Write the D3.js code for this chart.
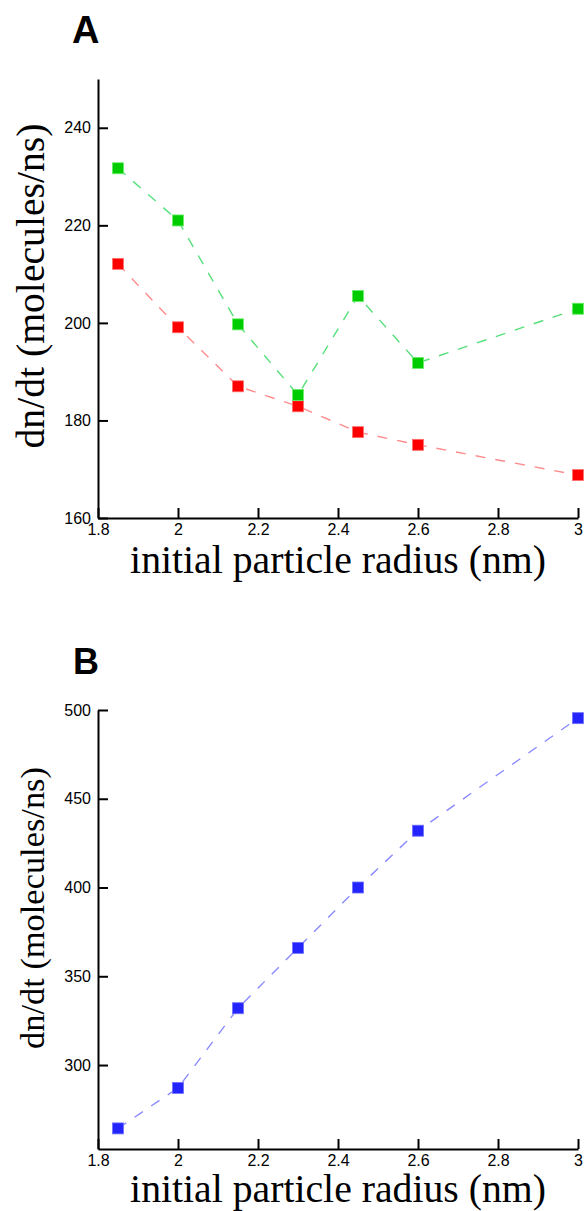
<!DOCTYPE html>
<html>
<head>
<meta charset="utf-8">
<script src="https://cdn.jsdelivr.net/npm/d3@7"></script>
<style>
  html, body { margin: 0; padding: 0; background: #fff; }
  svg { display: block; }
</style>
</head>
<body>
<svg id="chart" width="585" height="1211"></svg>
<script>
// ---- data ----
const radius = [1.85, 2.0, 2.15, 2.3, 2.45, 2.6, 3.0];
const greenSeries = [231.7, 221.0, 199.7, 185.2, 205.5, 191.8, 202.9];
const redSeries = [212.1, 199.1, 187.0, 182.9, 177.6, 175.0, 168.8];
const blueSeries = [264.3, 287.1, 332, 366, 400, 432, 495.4];
const xTicks = [1.8, 2, 2.2, 2.4, 2.6, 2.8, 3];
const yTicksA = [160, 180, 200, 220, 240];
const yTicksB = [300, 350, 400, 450, 500];
const xLabel = "initial particle radius (nm)";
const yLabel = "dn/dt (molecules/ns)";

const svg = d3.select("#chart");
const serif = "'Liberation Serif', 'DejaVu Serif', serif";
const sans = "'Liberation Sans', Arial, sans-serif";

function fitText(sel, target) {
  const node = sel.node();
  const len = node.getComputedTextLength();
  const fs = parseFloat(sel.attr("font-size"));
  sel.attr("font-size", fs * target / len);
}

function panel(opts) {
  const x = d3.scaleLinear().domain([1.8, 3]).range([98, 578]);
  const y = d3.scaleLinear().domain(opts.yDomain).range(opts.yRange);
  const g = svg.append("g");

  // panel letter
  g.append("text").attr("x", opts.letterX).attr("y", opts.letterY)
    .attr("font-family", sans).attr("font-weight", "bold")
    .attr("font-size", opts.letterSize).attr("fill", "#000").text(opts.letter);

  // axes
  const yAxis = d3.axisLeft(y).tickValues(opts.yTicks).tickSizeInner(-10)
    .tickSizeOuter(0).tickPadding(7).tickFormat(d => String(d));
  const xAxis = d3.axisBottom(x).tickValues(xTicks).tickSizeInner(-10)
    .tickSizeOuter(0).tickPadding(6).tickFormat(d => String(d));

  const ya = g.append("g").attr("transform", "translate(98,0)").call(yAxis);
  const xa = g.append("g").attr("transform", `translate(0,${opts.yRange[0]})`).call(xAxis);
  [ya, xa].forEach(a => {
    a.select(".domain").attr("stroke", "#000").attr("stroke-width", 2);
    a.selectAll(".tick line").attr("stroke", "#000").attr("stroke-width", 2);
    a.selectAll(".tick text").attr("font-family", sans).attr("font-size", 16).attr("fill", "#000");
  });

  // series
  opts.series.forEach(s => {
    const pts = radius.map((r, i) => [r, s.values[i]]);
    const line = d3.line().x(d => x(d[0])).y(d => y(d[1]));
    g.append("path").datum(pts).attr("d", line).attr("fill", "none")
      .attr("stroke", s.lineColor).attr("stroke-width", 1.4)
      .attr("stroke-dasharray", "10,10");
    g.selectAll(null).data(pts).enter().append("rect")
      .attr("x", d => x(d[0]) - 5.5).attr("y", d => y(d[1]) - 5.5)
      .attr("width", 11).attr("height", 11)
      .attr("fill", s.color).attr("stroke", s.edge).attr("stroke-width", 0.8);
  });

  // axis titles
  const xl = g.append("text").attr("x", 338).attr("y", opts.xLabelY)
    .attr("text-anchor", "middle").attr("font-family", serif)
    .attr("font-size", 34).attr("fill", "#000").text(xLabel);
  fitText(xl, 416);

  const yl = g.append("text")
    .attr("transform", `translate(44,${opts.yLabelCenter}) rotate(-90)`)
    .attr("text-anchor", "middle").attr("font-family", serif)
    .attr("font-size", 30).attr("fill", "#000").text(yLabel);
  fitText(yl, opts.yLabelLen);
}

panel({
  letter: "A", letterX: 72, letterY: 43, letterSize: 38,
  yDomain: [160, 250], yRange: [518, 79], yTicks: yTicksA,
  xLabelY: 573, yLabelCenter: 286, yLabelLen: 325,
  series: [
    { values: redSeries, color: "#ff0000", edge: "#ff7070", lineColor: "#ff8c8c" },
    { values: greenSeries, color: "#00cc00", edge: "#66ee66", lineColor: "#55e07a" }
  ]
});

panel({
  letter: "B", letterX: 73, letterY: 674, letterSize: 36,
  yDomain: [252.7, 500], yRange: [1149, 710], yTicks: yTicksB,
  xLabelY: 1202, yLabelCenter: 908, yLabelLen: 282,
  series: [
    { values: blueSeries, color: "#2424ff", edge: "#7070ff", lineColor: "#8a8aff" }
  ]
});
</script>
</body>
</html>
